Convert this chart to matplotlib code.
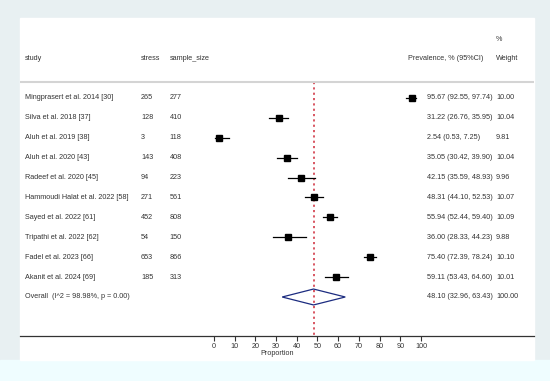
import numpy as np
import matplotlib.pyplot as plt
from matplotlib.patches import Rectangle, Polygon

plt.rcParams['font.family'] = ['Liberation Sans', 'DejaVu Sans']

# Data
studies = ["Mingprasert et al. 2014 [30]", "Silva et al. 2018 [37]", "Aluh et al. 2019 [38]",
           "Aluh et al. 2020 [43]", "Radeef et al. 2020 [45]", "Hammoudi Halat et al. 2022 [58]",
           "Sayed et al. 2022 [61]", "Tripathi et al. 2022 [62]", "Fadel et al. 2023 [66]",
           "Akanit et al. 2024 [69]"]
stress = [265, 128, 3, 143, 94, 271, 452, 54, 653, 185]
sample_size = [277, 410, 118, 408, 223, 561, 808, 150, 866, 313]
prev = [95.67, 31.22, 2.54, 35.05, 42.15, 48.31, 55.94, 36.00, 75.40, 59.11]
lo = [92.55, 26.76, 0.53, 30.42, 35.59, 44.10, 52.44, 28.33, 72.39, 53.43]
hi = [97.74, 35.95, 7.25, 39.90, 48.93, 52.53, 59.40, 44.23, 78.24, 64.60]
weight = [10.00, 10.04, 9.81, 10.04, 9.96, 10.07, 10.09, 9.88, 10.10, 10.01]
overall = (48.10, 32.96, 63.43)
overall_label = "Overall  (I^2 = 98.98%, p = 0.00)"
ticks = [0, 10, 20, 30, 40, 50, 60, 70, 80, 90, 100]

W, H = 550, 381
fig = plt.figure(figsize=(5.5, 3.81), dpi=100, facecolor='#e8f0f2')
# background panels
fig.patches.append(Rectangle((0, 0), 1, 21 / H, transform=fig.transFigure,
                             color='#effdff', zorder=-2))
fig.patches.append(Rectangle((20 / W, 21 / H), 514 / W, 342 / H, transform=fig.transFigure,
                             color='white', zorder=-2))

ax = fig.add_axes([20 / W, 45 / H, 514 / W, 318 / H])
ax.set_zorder(1)
ax.set_facecolor('none')
ax.set_xlim(-93.7, 154.6)
ax.set_ylim(11.96, -4.02)
for s in ['top', 'left', 'right']:
    ax.spines[s].set_visible(False)
ax.spines['bottom'].set_color('#333333')
ax.spines['bottom'].set_linewidth(0.9)
ax.set_yticks([])
ax.set_xticks(ticks)
ax.tick_params(axis='x', direction='out', length=3.5, width=0.8, color='#333333',
               labelsize=5.2, pad=1.5, labelcolor='#333333')

fs = 5.2
tc = '#333333'
rows = np.arange(len(studies))

# header
ax.axhline(-0.8, color='#d4d4d4', lw=1.5)
ax.text(-91.3, -1.96, "study", fontsize=fs, color=tc, va='center')
ax.text(-35.3, -1.96, "stress", fontsize=fs, color=tc, va='center')
ax.text(-21.3, -1.96, "sample_size", fontsize=fs, color=tc, va='center')
ax.text(93.7, -1.96, "Prevalence, % (95%CI)", fontsize=fs, color=tc, va='center')
ax.text(136.2, -2.96, "%", fontsize=fs, color=tc, va='center')
ax.text(136.2, -1.96, "Weight", fontsize=fs, color=tc, va='center')

# reference line
ax.vlines(overall[0], -0.8, 11.96, color='#d23a48', lw=1.2, linestyles=(0, (1.3, 1.9)), zorder=1)

# studies
for r in rows:
    ax.text(-91.3, r, studies[r], fontsize=fs, color=tc, va='center')
    ax.text(-35.3, r, str(stress[r]), fontsize=fs, color=tc, va='center')
    ax.text(-21.3, r, str(sample_size[r]), fontsize=fs, color=tc, va='center')
    ax.text(102.9, r, f"{prev[r]:.2f} ({lo[r]:.2f}, {hi[r]:.2f})", fontsize=fs, color=tc, va='center')
    ax.text(136.2, r, f"{weight[r]:.2f}", fontsize=fs, color=tc, va='center')
    ax.plot([lo[r], hi[r]], [r, r], color='black', lw=0.9, zorder=2)
    ax.plot(prev[r], r, marker='s', ms=4.3 * np.sqrt(weight[r] / 10), color='black', zorder=3)

# overall
ro = len(studies)
ax.text(-91.3, ro, overall_label, fontsize=fs, color=tc, va='center')
ax.text(102.9, ro, f"{overall[0]:.2f} ({overall[1]:.2f}, {overall[2]:.2f})", fontsize=fs, color=tc, va='center')
ax.text(136.2, ro, "100.00", fontsize=fs, color=tc, va='center')
ax.add_patch(Polygon([(overall[1], ro), (overall[0], ro - 0.4), (overall[2], ro), (overall[0], ro + 0.4)],
                     closed=True, fill=False, edgecolor='#1c2c80', lw=0.9, zorder=3))

ax.text(30.5, 12.85, "Proportion", fontsize=fs, color=tc, ha='center', va='center', clip_on=False)

fig.savefig('out.png', dpi=100, facecolor=fig.get_facecolor())
